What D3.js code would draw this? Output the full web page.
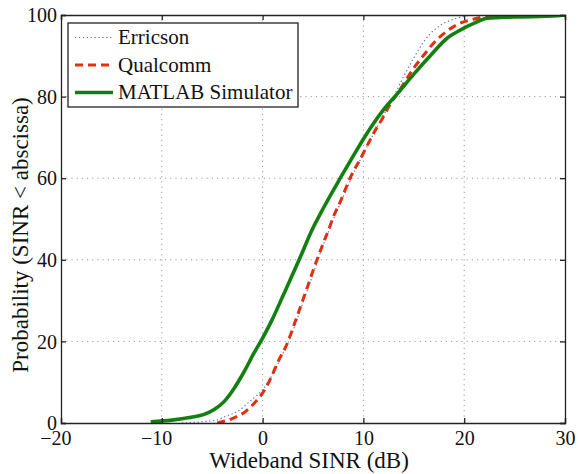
<!DOCTYPE html>
<html>
<head>
<meta charset="utf-8">
<script src="https://cdn.jsdelivr.net/npm/d3@7"></script>
<style>body { margin: 0; background: #fff; }</style>
</head>
<body>
<svg id="chart" width="578" height="474" style='font-family: "Liberation Serif"'></svg>
<script>
// CDF points: [SINR dB, probability %]
const ericsson = [[-8, 0], [-6, 0.3], [-4.5, 0.8], [-3.5, 1.8], [-2.5, 2.8], [-1.5, 4.8],
  [-0.7, 6.5], [0, 8.1], [1, 12], [2, 17], [3, 22.5], [4, 29.5], [5, 36.5], [6, 43.5],
  [7, 49.8], [8, 55.5], [9, 61], [10, 66], [11, 70.8], [12, 75.5], [13, 80], [14, 85],
  [15, 89.5], [16, 93.5], [17, 96.3], [18, 98], [19, 99], [20, 99.7], [21, 100], [30, 100]];
const qualcomm = [[-4.5, 0], [-3, 1.1], [-1.7, 2.8], [-0.7, 5.2], [0.3, 8.5], [0.96, 11.8],
  [1.6, 15.4], [2.3, 18.7], [3.4, 26], [4.4, 33], [5.1, 38], [5.9, 43.3], [6.6, 47.7],
  [7.1, 51], [7.7, 54.2], [8.3, 57.8], [8.9, 61.2], [9.65, 64.5], [10.4, 68.1], [11.1, 71.4],
  [11.9, 74.7], [12.6, 77.9], [13.5, 81.2], [14.2, 84], [15, 87], [16, 90.2], [17, 93.2],
  [18.2, 95.9], [19.6, 98], [21, 99], [22.5, 99.8], [30, 100]];
const matlab = [[-11.1, 0.3], [-9, 0.7], [-7.1, 1.4], [-5.8, 2.1], [-4.8, 3.3], [-3.8, 5.3],
  [-2.85, 8.4], [-1.85, 12.5], [-0.86, 17.1], [0, 20.8], [0.96, 25.4], [2.1, 31.6],
  [3.8, 41], [4.9, 47.3], [6.1, 53], [7.7, 60], [9.1, 65.9], [10.05, 69.8], [11, 73.4],
  [12, 76.8], [13.4, 80.8], [15, 85.5], [16.7, 90.2], [18.3, 94.3], [19.6, 96.3], [21, 98],
  [22.3, 99.2], [25, 99.5], [29.2, 99.8], [30, 100]];

const xTicks = [-20, -10, 0, 10, 20, 30];
const yTicks = [0, 20, 40, 60, 80, 100];

const series = [
  { name: "Erricson", data: ericsson, color: "#5b6fd0", width: 1.2, dash: "1.3,2.6" },
  { name: "Qualcomm", data: qualcomm, color: "#e03010", width: 3, dash: "8,5" },
  { name: "MATLAB Simulator", data: matlab, color: "#118011", width: 3.6, dash: null }
];

const FONT = '"Liberation Serif", "Times New Roman"';

const width = 578, height = 474;
const margin = { top: 15, right: 13, bottom: 51, left: 61 };
const w = width - margin.left - margin.right;
const h = height - margin.top - margin.bottom;

const svg = d3.select("#chart");

const g = svg.append("g")
  .attr("transform", `translate(${margin.left},${margin.top})`);

const x = d3.scaleLinear().domain([-20, 30]).range([0, w]);
const y = d3.scaleLinear().domain([0, 100]).range([h, 0]);

// dotted grid
g.append("g")
  .selectAll("line")
  .data(xTicks.slice(1, -1))
  .join("line")
  .attr("x1", d => x(d)).attr("x2", d => x(d))
  .attr("y1", 0).attr("y2", h)
  .attr("stroke", "#999").attr("stroke-dasharray", "1.2,4");

g.append("g")
  .selectAll("line")
  .data(yTicks.slice(1, -1))
  .join("line")
  .attr("x1", 0).attr("x2", w)
  .attr("y1", d => y(d)).attr("y2", d => y(d))
  .attr("stroke", "#999").attr("stroke-dasharray", "1.2,4");

// lines
const line = d3.line()
  .x(d => x(d[0]))
  .y(d => y(d[1]))
  .curve(d3.curveMonotoneX);

g.append("defs").append("clipPath").attr("id", "clip")
  .append("rect").attr("width", w).attr("height", h);

series.forEach(s => {
  g.append("path")
    .datum(s.data)
    .attr("clip-path", "url(#clip)")
    .attr("fill", "none")
    .attr("stroke", s.color)
    .attr("stroke-width", s.width)
    .attr("stroke-dasharray", s.dash)
    .attr("d", line);
});

// axes with inward ticks on all sides
const fmt = d => d < 0 ? "\u2212" + Math.abs(d) : d;

const xAxis = g.append("g")
  .attr("transform", `translate(0,${h})`)
  .call(d3.axisBottom(x).tickValues(xTicks).tickSize(-5).tickPadding(8).tickFormat(fmt));
const yAxis = g.append("g")
  .call(d3.axisLeft(y).tickValues(yTicks).tickSize(-5).tickPadding(4).tickFormat(fmt));
g.append("g")
  .call(d3.axisTop(x).tickValues(xTicks).tickSize(-5).tickFormat(""));
g.append("g")
  .attr("transform", `translate(${w},0)`)
  .call(d3.axisRight(y).tickValues(yTicks).tickSize(-5).tickFormat(""));

g.selectAll(".domain, .tick line").attr("stroke", "#222").attr("stroke-width", 1.3);
g.selectAll("g").attr("font-family", "Liberation Serif");
xAxis.selectAll("text")
  .attr("font-family", "Liberation Serif")
  .style("font-family", FONT).attr("font-size", 20).attr("fill", "#111")
  .attr("dx", d => d < 0 ? -5.6 : 0);
yAxis.selectAll("text")
  .attr("font-family", "Liberation Serif")
  .style("font-family", FONT).attr("font-size", 20).attr("fill", "#111")
  .attr("dy", "0.33em");

// axis titles
svg.append("text")
  .attr("x", 309)
  .attr("y", 468)
  .attr("text-anchor", "middle")
  .attr("font-family", "Liberation Serif")
  .style("font-family", FONT)
  .attr("font-size", 23)
  .attr("fill", "#111")
  .text("Wideband SINR (dB)");

svg.append("text")
  .attr("transform", "translate(28,235) rotate(-90)")
  .attr("text-anchor", "middle")
  .attr("font-family", "Liberation Serif")
  .style("font-family", FONT)
  .attr("font-size", 23)
  .attr("fill", "#111")
  .text("Probability (SINR < abscissa)");

// legend
const legend = svg.append("g").attr("transform", "translate(68,23)");
legend.append("rect")
  .attr("width", 230).attr("height", 84)
  .attr("fill", "#fff").attr("stroke", "#222").attr("stroke-width", 1.3);

series.forEach((s, i) => {
  const ly = 14.5 + i * 27.5;
  legend.append("line")
    .attr("x1", 7).attr("x2", 45)
    .attr("y1", ly).attr("y2", ly)
    .attr("stroke", s.color)
    .attr("stroke-width", s.width)
    .attr("stroke-dasharray", s.dash);
  legend.append("text")
    .attr("x", 50).attr("y", ly + 6.5)
    .attr("font-family", "Liberation Serif")
    .style("font-family", FONT)
    .attr("font-size", 21)
    .attr("fill", "#111")
    .text(s.name);
});
</script>
</body>
</html>
